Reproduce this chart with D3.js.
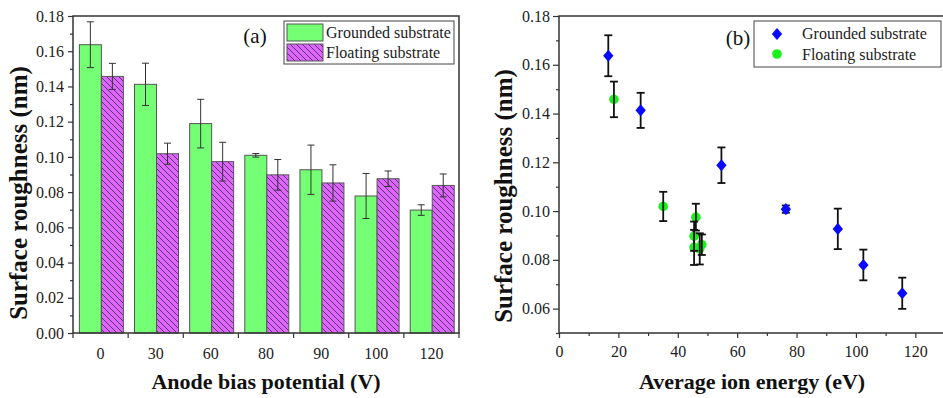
<!DOCTYPE html>
<meta charset="utf-8">
<style>
body { margin: 0; background: #fff; }
svg { display: block; }
.tick line { stroke: #333; stroke-width: 1.2px; }
.domain { display: none; }
.frame { fill: none; stroke: #333; stroke-width: 1.5px; }
</style>
<body>
<svg width="943" height="398"></svg>
<script src="https://d3js.org/d3.v7.min.js"></script>
<script>
// panel (a): bars by anode bias
var biasLabels = ["0", "30", "60", "80", "90", "100", "120"];
var groundedVals = [0.1637, 0.1412, 0.1189, 0.1009, 0.0927, 0.0778, 0.0698];
var groundedErr = [0.0130, 0.0120, 0.0138, 0.0010, 0.0140, 0.0128, 0.0030];
var floatingVals = [0.1457, 0.1018, 0.0973, 0.0898, 0.0852, 0.0876, 0.0838];
var floatingErr = [0.0074, 0.0060, 0.0110, 0.0087, 0.0103, 0.0044, 0.0065];

// panel (b): scatter vs ion energy
var grEnergy = [16.6, 27.5, 54.7, 76.4, 93.9, 102.5, 115.6];
var grRough = [0.1637, 0.1413, 0.1188, 0.1008, 0.0927, 0.0779, 0.0663];
var grRoughErr = [0.0084, 0.0072, 0.0073, 0.0015, 0.0083, 0.0063, 0.0064];
var flEnergy = [18.5, 35.1, 46.1, 45.5, 45.5, 47.4, 48.1];
var flRough = [0.1458, 0.1019, 0.0975, 0.0897, 0.0851, 0.0845, 0.0862];
var flRoughErr = [0.0073, 0.0060, 0.0055, 0.0060, 0.0072, 0.0064, 0.0042];

var yTicksA = [0, 0.02, 0.04, 0.06, 0.08, 0.10, 0.12, 0.14, 0.16, 0.18];
var yTicksB = [0.06, 0.08, 0.10, 0.12, 0.14, 0.16, 0.18];
var xTicksB = [0, 20, 40, 60, 80, 100, 120];

var SERIF = "'Liberation Serif', 'Times New Roman', serif";

var svg = d3.select("svg");

var defs = svg.append("defs");
var pat = defs.append("pattern")
    .attr("id", "hatch")
    .attr("patternUnits", "userSpaceOnUse")
    .attr("width", 6).attr("height", 6);
pat.append("rect").attr("width", 6).attr("height", 6).attr("fill", "#de66ff");
pat.append("path")
    .attr("d", "M-1,-1 L7,7 M-1,5 L1,7 M5,-1 L7,1")
    .attr("stroke", "#3a2a40").attr("stroke-width", 0.8);

// wide diamond marker like Origin's
var wideDiamond = {
  draw: function(ctx, size) {
    var w = Math.sqrt(size) * 0.62, h = Math.sqrt(size) * 0.72;
    ctx.moveTo(0, -h); ctx.lineTo(w, 0); ctx.lineTo(0, h); ctx.lineTo(-w, 0); ctx.closePath();
  }
};
var diamond = d3.symbol().type(wideDiamond).size(70);

function serifTicks(sel) {
  sel.selectAll(".tick text")
    .style("font-family", SERIF).style("font-size", "16px").attr("fill", "#222");
}

function label(g, txt, size, bold) {
  return g.append("text").text(txt)
    .style("font-family", SERIF).style("font-size", size + "px")
    .style("font-weight", bold ? "bold" : "normal")
    .attr("fill", bold ? "#111" : "#222");
}

// ---------- panel (a) ----------
var a = {left: 73, right: 459, top: 16, bottom: 333};

var xa = d3.scaleBand().domain(biasLabels).range([a.left, a.right]);
var ya = d3.scaleLinear().domain([0, 0.18]).range([a.bottom, a.top]);
var bw = 22;

var ga = svg.append("g");

ga.append("g").attr("transform", "translate(" + a.left + ",0)")
  .call(d3.axisLeft(ya).tickValues(d3.range(0.01, 0.18, 0.02)).tickSize(3).tickFormat(""));
ga.append("g").attr("transform", "translate(" + a.left + ",0)")
  .call(d3.axisLeft(ya).tickValues(yTicksA).tickSize(5).tickPadding(4).tickFormat(d3.format(".2f")))
  .call(serifTicks);

ga.append("g").attr("transform", "translate(0," + a.bottom + ")")
  .call(d3.axisBottom(xa).tickSize(0).tickPadding(15))
  .call(serifTicks);

var edges = biasLabels.map(function(d) { return xa(d); }).concat([xa.range()[1]]);
ga.selectAll(".edge").data(edges).enter().append("line")
    .attr("class", "edge")
    .attr("x1", function(d) { return d; }).attr("x2", function(d) { return d; })
    .attr("y1", a.bottom).attr("y2", a.bottom + 5)
    .attr("stroke", "#333").attr("stroke-width", 1.2);

function mid(d) { return xa(d) + xa.bandwidth() / 2 + 0.8; }

ga.selectAll(".gbar").data(biasLabels).enter().append("rect")
    .attr("x", function(d) { return mid(d) - bw; })
    .attr("y", function(d, i) { return ya(groundedVals[i]); })
    .attr("width", bw)
    .attr("height", function(d, i) { return a.bottom - ya(groundedVals[i]); })
    .attr("fill", "#74ff74").attr("stroke", "#555").attr("stroke-width", 1);

ga.selectAll(".fbar").data(biasLabels).enter().append("rect")
    .attr("x", function(d) { return mid(d); })
    .attr("y", function(d, i) { return ya(floatingVals[i]); })
    .attr("width", bw)
    .attr("height", function(d, i) { return a.bottom - ya(floatingVals[i]); })
    .attr("fill", "url(#hatch)").attr("stroke", "#555").attr("stroke-width", 1);

function errA(cx, v, e) {
  var g = ga.append("g").attr("stroke", "#333").attr("stroke-width", 1);
  g.append("line").attr("x1", cx).attr("x2", cx).attr("y1", ya(v + e)).attr("y2", ya(v - e));
  g.append("line").attr("x1", cx - 3.5).attr("x2", cx + 3.5).attr("y1", ya(v + e)).attr("y2", ya(v + e));
  g.append("line").attr("x1", cx - 3.5).attr("x2", cx + 3.5).attr("y1", ya(v - e)).attr("y2", ya(v - e));
}
biasLabels.forEach(function(d, i) {
  errA(mid(d) - bw / 2, groundedVals[i], groundedErr[i]);
  errA(mid(d) + bw / 2, floatingVals[i], floatingErr[i]);
});

ga.append("path").attr("class", "frame")
    .attr("d", "M" + a.left + "," + a.bottom + "V" + a.top + "H" + a.right + "V" + a.bottom + "Z");

label(ga, "Anode bias potential (V)", 22, true).attr("text-anchor", "middle")
    .attr("x", (a.left + a.right) / 2).attr("y", 389);
label(ga, "Surface roughness (nm)", 25, true).attr("text-anchor", "middle")
    .attr("transform", "translate(27,193) rotate(-90)");
label(ga, "(a)", 21, false).attr("x", 255).attr("y", 43).attr("text-anchor", "middle").attr("fill", "#111");

// legend (a)
var la = ga.append("g");
la.append("rect").attr("x", 284).attr("y", 21).attr("width", 170).attr("height", 43)
    .attr("fill", "#fff").attr("stroke", "#444").attr("stroke-width", 1);
la.append("rect").attr("x", 287).attr("y", 24).attr("width", 36).attr("height", 17)
    .attr("fill", "#74ff74").attr("stroke", "#555");
la.append("rect").attr("x", 287).attr("y", 44).attr("width", 36).attr("height", 17)
    .attr("fill", "url(#hatch)").attr("stroke", "#555");
label(la, "Grounded substrate", 16, false).attr("x", 326).attr("y", 38);
label(la, "Floating substrate", 16, false).attr("x", 326).attr("y", 58);

// ---------- panel (b) ----------
var b = {left: 559, right: 945, top: 16, bottom: 333};
var xb = d3.scaleLinear().domain([0, 130]).range([b.left, b.right]);
var yb = d3.scaleLinear().domain([0.05, 0.18]).range([b.bottom, b.top]);

var gb = svg.append("g");

gb.append("g").attr("transform", "translate(" + b.left + ",0)")
  .call(d3.axisLeft(yb).tickValues(d3.range(0.05, 0.18, 0.02)).tickSize(3).tickFormat(""));
gb.append("g").attr("transform", "translate(" + b.left + ",0)")
  .call(d3.axisLeft(yb).tickValues(yTicksB).tickSize(6).tickPadding(3).tickFormat(d3.format(".2f")))
  .call(serifTicks);
gb.append("g").attr("transform", "translate(0," + b.bottom + ")")
  .call(d3.axisBottom(xb).tickValues(d3.range(10, 131, 20)).tickSize(3).tickFormat(""));
gb.append("g").attr("transform", "translate(0," + b.bottom + ")")
  .call(d3.axisBottom(xb).tickValues(xTicksB).tickSize(5).tickPadding(8))
  .call(serifTicks);

gb.append("path").attr("class", "frame")
    .attr("d", "M" + b.left + "," + b.bottom + "V" + b.top + "H" + b.right + "M" + b.left + "," + b.bottom + "H" + b.right);

function errB(x, v, e) {
  var g = gb.append("g").attr("stroke", "#111").attr("stroke-width", 1.8);
  var cx = xb(x);
  g.append("line").attr("x1", cx).attr("x2", cx).attr("y1", yb(v + e)).attr("y2", yb(v - e));
  g.append("line").attr("x1", cx - 4).attr("x2", cx + 4).attr("y1", yb(v + e)).attr("y2", yb(v + e));
  g.append("line").attr("x1", cx - 4).attr("x2", cx + 4).attr("y1", yb(v - e)).attr("y2", yb(v - e));
}

flEnergy.forEach(function(x, i) {
  gb.append("circle").attr("cx", xb(x)).attr("cy", yb(flRough[i])).attr("r", 4.8).attr("fill", "#1cf01c");
});
flEnergy.forEach(function(x, i) { errB(x, flRough[i], flRoughErr[i]); });

grEnergy.forEach(function(x, i) { errB(x, grRough[i], grRoughErr[i]); });
gb.selectAll(".dia").data(grEnergy).enter().append("path")
    .attr("d", diamond)
    .attr("transform", function(d, i) { return "translate(" + xb(d) + "," + yb(grRough[i]) + ")"; })
    .attr("fill", "#0a0aff");

label(gb, "Average ion energy (eV)", 22, true).attr("text-anchor", "middle")
    .attr("x", (b.left + b.right) / 2).attr("y", 389);
label(gb, "Surface roughness (nm)", 25, true).attr("text-anchor", "middle")
    .attr("transform", "translate(512,196) rotate(-90)");
label(gb, "(b)", 21, false).attr("x", 738).attr("y", 45).attr("text-anchor", "middle").attr("fill", "#111");

var lb = gb.append("g");
lb.append("rect").attr("x", 754).attr("y", 21).attr("width", 187).attr("height", 46)
    .attr("fill", "#fff").attr("stroke", "#444").attr("stroke-width", 1);
lb.append("path").attr("d", diamond).attr("transform", "translate(777,34)").attr("fill", "#0a0aff");
lb.append("circle").attr("cx", 777).attr("cy", 54).attr("r", 4.8).attr("fill", "#1cf01c");
label(lb, "Grounded substrate", 16, false).attr("x", 802).attr("y", 39);
label(lb, "Floating substrate", 16, false).attr("x", 802).attr("y", 60);
</script>
</body>
